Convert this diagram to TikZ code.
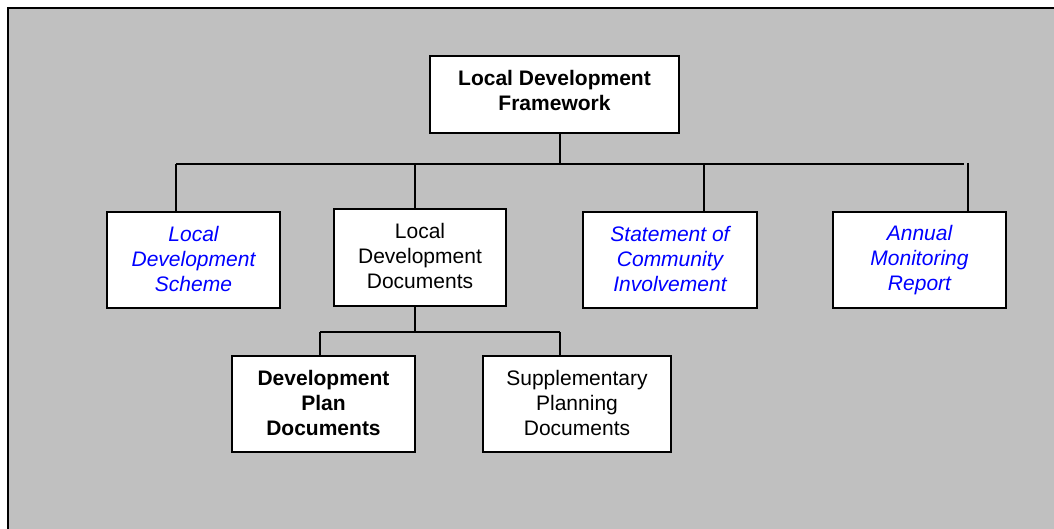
\documentclass[tikz,border=0pt]{standalone}
\usepackage{fontspec}
\setmainfont{Liberation Sans}
\usepackage{tikz}
\usetikzlibrary{calc, positioning}
\definecolor{fond}{RGB}{192,192,192}

\begin{document}
\begin{tikzpicture}[
    x=1pt, y=-1pt,
    box/.style={rectangle, draw, fill=white, line width=1.8pt, align=center, inner sep=2pt, font=\fontsize{21}{25}\selectfont},
    head/.style={box, font=\fontsize{21}{25}\selectfont\bfseries, execute at begin node=\strut, execute at end node=\strut},
    tall/.style={box, minimum height=96pt, execute at begin node={\rule{0pt}{21pt}}, execute at end node={\rule[-3pt]{0pt}{3pt}}},
    doc/.style={tall, text=blue, font=\fontsize{21}{25}\selectfont\itshape},
    link/.style={line width=1.6pt}
]
\useasboundingbox (0,0) rectangle (1054,529);
% Cadre
\draw[line width=2pt, fill=fond] (8,8) rectangle (1070,545);

% Boîtes
\node[head, minimum width=249pt, minimum height=77pt] (ldf) at (554.5,94.5) {Local Development\\Framework};
\node[doc, minimum width=173pt] (lds) at (193.5,260) {Local\\Development\\Scheme};
\node[tall, minimum width=172pt, minimum height=97pt] (ldd) at (420,257.5) {Local\\Development\\Documents};
\node[doc, minimum width=174pt] (sci) at (670,260) {Statement of\\Community\\Involvement};
\node[doc, minimum width=173pt] (amr) at (919.5,260) {Annual\\Monitoring\\Report};
\node[tall, minimum width=183pt, font=\fontsize{21}{25}\selectfont\bfseries] (dpd) at (323.5,404) {Development\\Plan\\Documents};
\node[tall, minimum width=188pt] (spd) at (577,404) {Supplementary\\Planning\\Documents};

% Liaisons
\coordinate (bus) at (560,164);
\coordinate (busR) at (964,164);
\coordinate (b1) at (176,164);
\coordinate (b2) at (415,164);
\coordinate (b3) at (704,164);
\coordinate (b4) at (968,163);
\draw[link] (ldf.south -| bus) -- (bus);
\draw[link] (b1) -- (busR);
\draw[link] (b1) -- (b1 |- lds.north);
\draw[link] (b2) -- (b2 |- ldd.north);
\draw[link] (b3) -- (b3 |- sci.north);
\draw[link] (b4) -- (b4 |- amr.north);

\coordinate (s0) at (415,332);
\coordinate (s1) at (320,332);
\coordinate (s2) at (560,332);
\draw[link] (ldd.south -| s0) -- (s0);
\draw[link] (s1) -- (s2);
\draw[link] (s1) -- (s1 |- dpd.north);
\draw[link] (s2) -- (s2 |- spd.north);
\end{tikzpicture}
\end{document}
